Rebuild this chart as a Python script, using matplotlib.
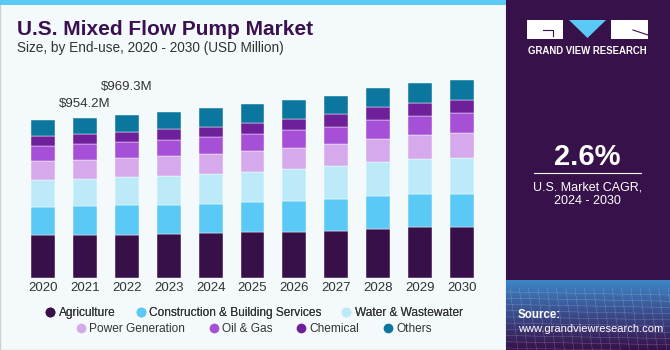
import numpy as np
import matplotlib.pyplot as plt
from matplotlib.patches import Rectangle, Polygon
from matplotlib.lines import Line2D
from matplotlib.colors import LinearSegmentedColormap

years = ['2020', '2021', '2022', '2023', '2024', '2025', '2026', '2027', '2028', '2029', '2030']
segments = ['Agriculture', 'Construction & Building Services', 'Water & Wastewater',
            'Power Generation', 'Oil & Gas', 'Chemical', 'Others']
agriculture = [259.3, 263.0, 263.0, 269.0, 273.0, 277.0, 281.0, 287.0, 297.0, 308.0, 308.0]
construction = [170.6, 173.0, 179.0, 175.0, 177.0, 185.0, 187.0, 193.0, 201.0, 199.0, 203.0]
water = [162.8, 165.0, 167.0, 173.0, 179.0, 179.0, 191.0, 197.0, 203.0, 211.0, 217.0]
power = [112.8, 112.0, 115.0, 119.0, 119.0, 125.0, 128.0, 133.0, 140.0, 145.0, 147.0]
oil_gas = [92.3, 98.0, 98.0, 98.0, 103.0, 104.0, 107.0, 104.0, 113.0, 115.0, 121.0]
chemical = [60.3, 60.0, 60.0, 65.0, 64.0, 68.0, 66.0, 75.0, 77.0, 78.0, 82.0]
others = [96.1, 98.3, 101.0, 104.0, 109.0, 111.0, 115.0, 112.0, 115.0, 121.0, 119.0]
labels = ['$954.2M', '$969.3M']
cagr = '2.6%'

colors = ['#37104a', '#5bc9f5', '#bdeaf9', '#d5a9ec', '#a550d6', '#6e209a', '#0b779f']
series = [agriculture, construction, water, power, oil_gas, chemical, others]

W, H = 670, 350
fig = plt.figure(figsize=(6.7, 3.5), dpi=100)
fig.patch.set_facecolor('white')

# background panels, drawn in figure pixel coords
bg = fig.add_axes([0, 0, 1, 1])
bg.axis('off')
bg.add_patch(Rectangle((0, 0), 506, H, facecolor='#f4f9fc', edgecolor='#d0d0d0', lw=1))
bg.add_patch(Rectangle((0, 0), 506, 5, facecolor='#5bc9f5', edgecolor='none'))
bg.add_patch(Rectangle((506, 0), W - 506, H, facecolor='#371149', edgecolor='none'))

# bottom gradient + mesh of the right panel
grad = np.linspace(0, 1, 100).reshape(-1, 1)
cmap = LinearSegmentedColormap.from_list('g', ['#371149', '#3a4a8a', '#3d86c6'])
bg.imshow(grad, extent=(506, W, 280, H), cmap=cmap, aspect='auto', zorder=1)
for yy in np.linspace(292, 348, 10):
    bg.plot([506, W], [yy, yy + 3], color='white', lw=0.3, alpha=0.3, zorder=2)
for xx in np.linspace(510, 668, 18):
    bg.plot([xx, xx + 8], [288, H], color='white', lw=0.3, alpha=0.3, zorder=2)
bg.set_xlim(0, W)
bg.set_ylim(H, 0)

# logo
bg.add_patch(Rectangle((527, 20), 36, 19, facecolor='white', edgecolor='none', zorder=3))
bg.plot([543, 553, 553], [30, 30, 36], color='#371149', lw=0.8, zorder=4)
bg.add_patch(Polygon([(569, 20), (606, 20), (587.5, 38)], closed=True,
                     facecolor='#5bc9f5', edgecolor='none', zorder=3))
bg.add_patch(Rectangle((611, 20), 37, 19, facecolor='white', edgecolor='none', zorder=3))
bg.plot([633, 648], [30, 35], color='#371149', lw=0.8, zorder=4)
bg.text(587.5, 51, 'GRAND VIEW RESEARCH', color='white', fontsize=6.9, fontweight='bold',
        ha='center', va='center', family='Liberation Sans', zorder=4)

bg.text(587.5, 157, cagr, color='white', fontsize=21, fontweight='bold',
        ha='center', va='center', family='Liberation Sans', zorder=4)
bg.plot([534, 641], [173, 173], color='white', lw=0.8, zorder=4)
bg.text(587.5, 187, 'U.S. Market CAGR,', color='white', fontsize=9,
        ha='center', va='center', family='Liberation Sans', zorder=4)
bg.text(587.5, 201, '2024 - 2030', color='white', fontsize=9,
        ha='center', va='center', family='Liberation Sans', zorder=4)
bg.text(518, 315, 'Source:', color='white', fontsize=8.3, fontweight='bold',
        ha='left', va='center', family='Liberation Sans', zorder=4)
bg.text(518, 329, 'www.grandviewresearch.com', color='white', fontsize=8,
        ha='left', va='center', family='Liberation Sans', zorder=4)

# titles
bg.text(17, 35, 'U.S. Mixed Flow Pump Market', color='#3a1150', fontsize=15, fontweight='bold',
        ha='left', va='baseline', family='Liberation Sans')
bg.text(17, 52, 'Size, by End-use, 2020 - 2030 (USD Million)', color='#333333', fontsize=9.8,
        ha='left', va='baseline', family='Liberation Sans')

# bar chart
ax_left, ax_right = 17.9, 487.1
ax_bottom = 278.3
ymax = 1300
ax_top = ax_bottom - ymax / 6.03
ax = fig.add_axes([ax_left / W, (H - ax_bottom) / H, (ax_right - ax_left) / W, (ax_bottom - ax_top) / H])
ax.set_facecolor('none')
x = np.arange(len(years))
bottom = np.zeros(len(years))
for vals, col, name in zip(series, colors, segments):
    ax.bar(x, vals, bottom=bottom, width=0.57, color=col, edgecolor='#ffffff', linewidth=0.3, label=name)
    bottom += np.array(vals)

totals = bottom
offsets = [(42, 16), (42, 31)]
for i, lab in enumerate(labels):
    ax.annotate(lab, (x[i], totals[i]), xytext=offsets[i], textcoords='offset pixels',
                ha='center', va='center', fontsize=9.5, color='#333333', family='Liberation Sans')

ax.set_xlim(-0.6, 10.6)
ax.set_ylim(0, ymax)
ax.set_xticks(x)
ax.set_xticklabels(years, fontsize=9.5, color='#333333', family='Liberation Sans')
ax.tick_params(axis='x', length=0, pad=3)
ax.set_yticks([])
for s in ax.spines.values():
    s.set_visible(False)

# legend in two rows
handles = [Line2D([0], [0], marker='o', color='none', markerfacecolor=c, markeredgecolor='none',
                  markersize=7, label=n) for c, n in zip(colors, segments)]
cx = 253 / W
leg1 = fig.legend(handles=handles[:3], loc='center', bbox_to_anchor=(cx, (H - 312.7) / H), ncol=3,
                  frameon=False, handletextpad=0.1, columnspacing=1.5, handlelength=1.2,
                  prop={'family': 'Liberation Sans', 'size': 8.6})
leg2 = fig.legend(handles=handles[3:], loc='center', bbox_to_anchor=(cx, (H - 328.7) / H), ncol=4,
                  frameon=False, handletextpad=0.1, columnspacing=1.8, handlelength=1.2,
                  prop={'family': 'Liberation Sans', 'size': 8.6})
for leg in (leg1, leg2):
    for t in leg.get_texts():
        t.set_color('#333333')
fig.add_artist(leg1)

fig.savefig('out.png', dpi=100)
